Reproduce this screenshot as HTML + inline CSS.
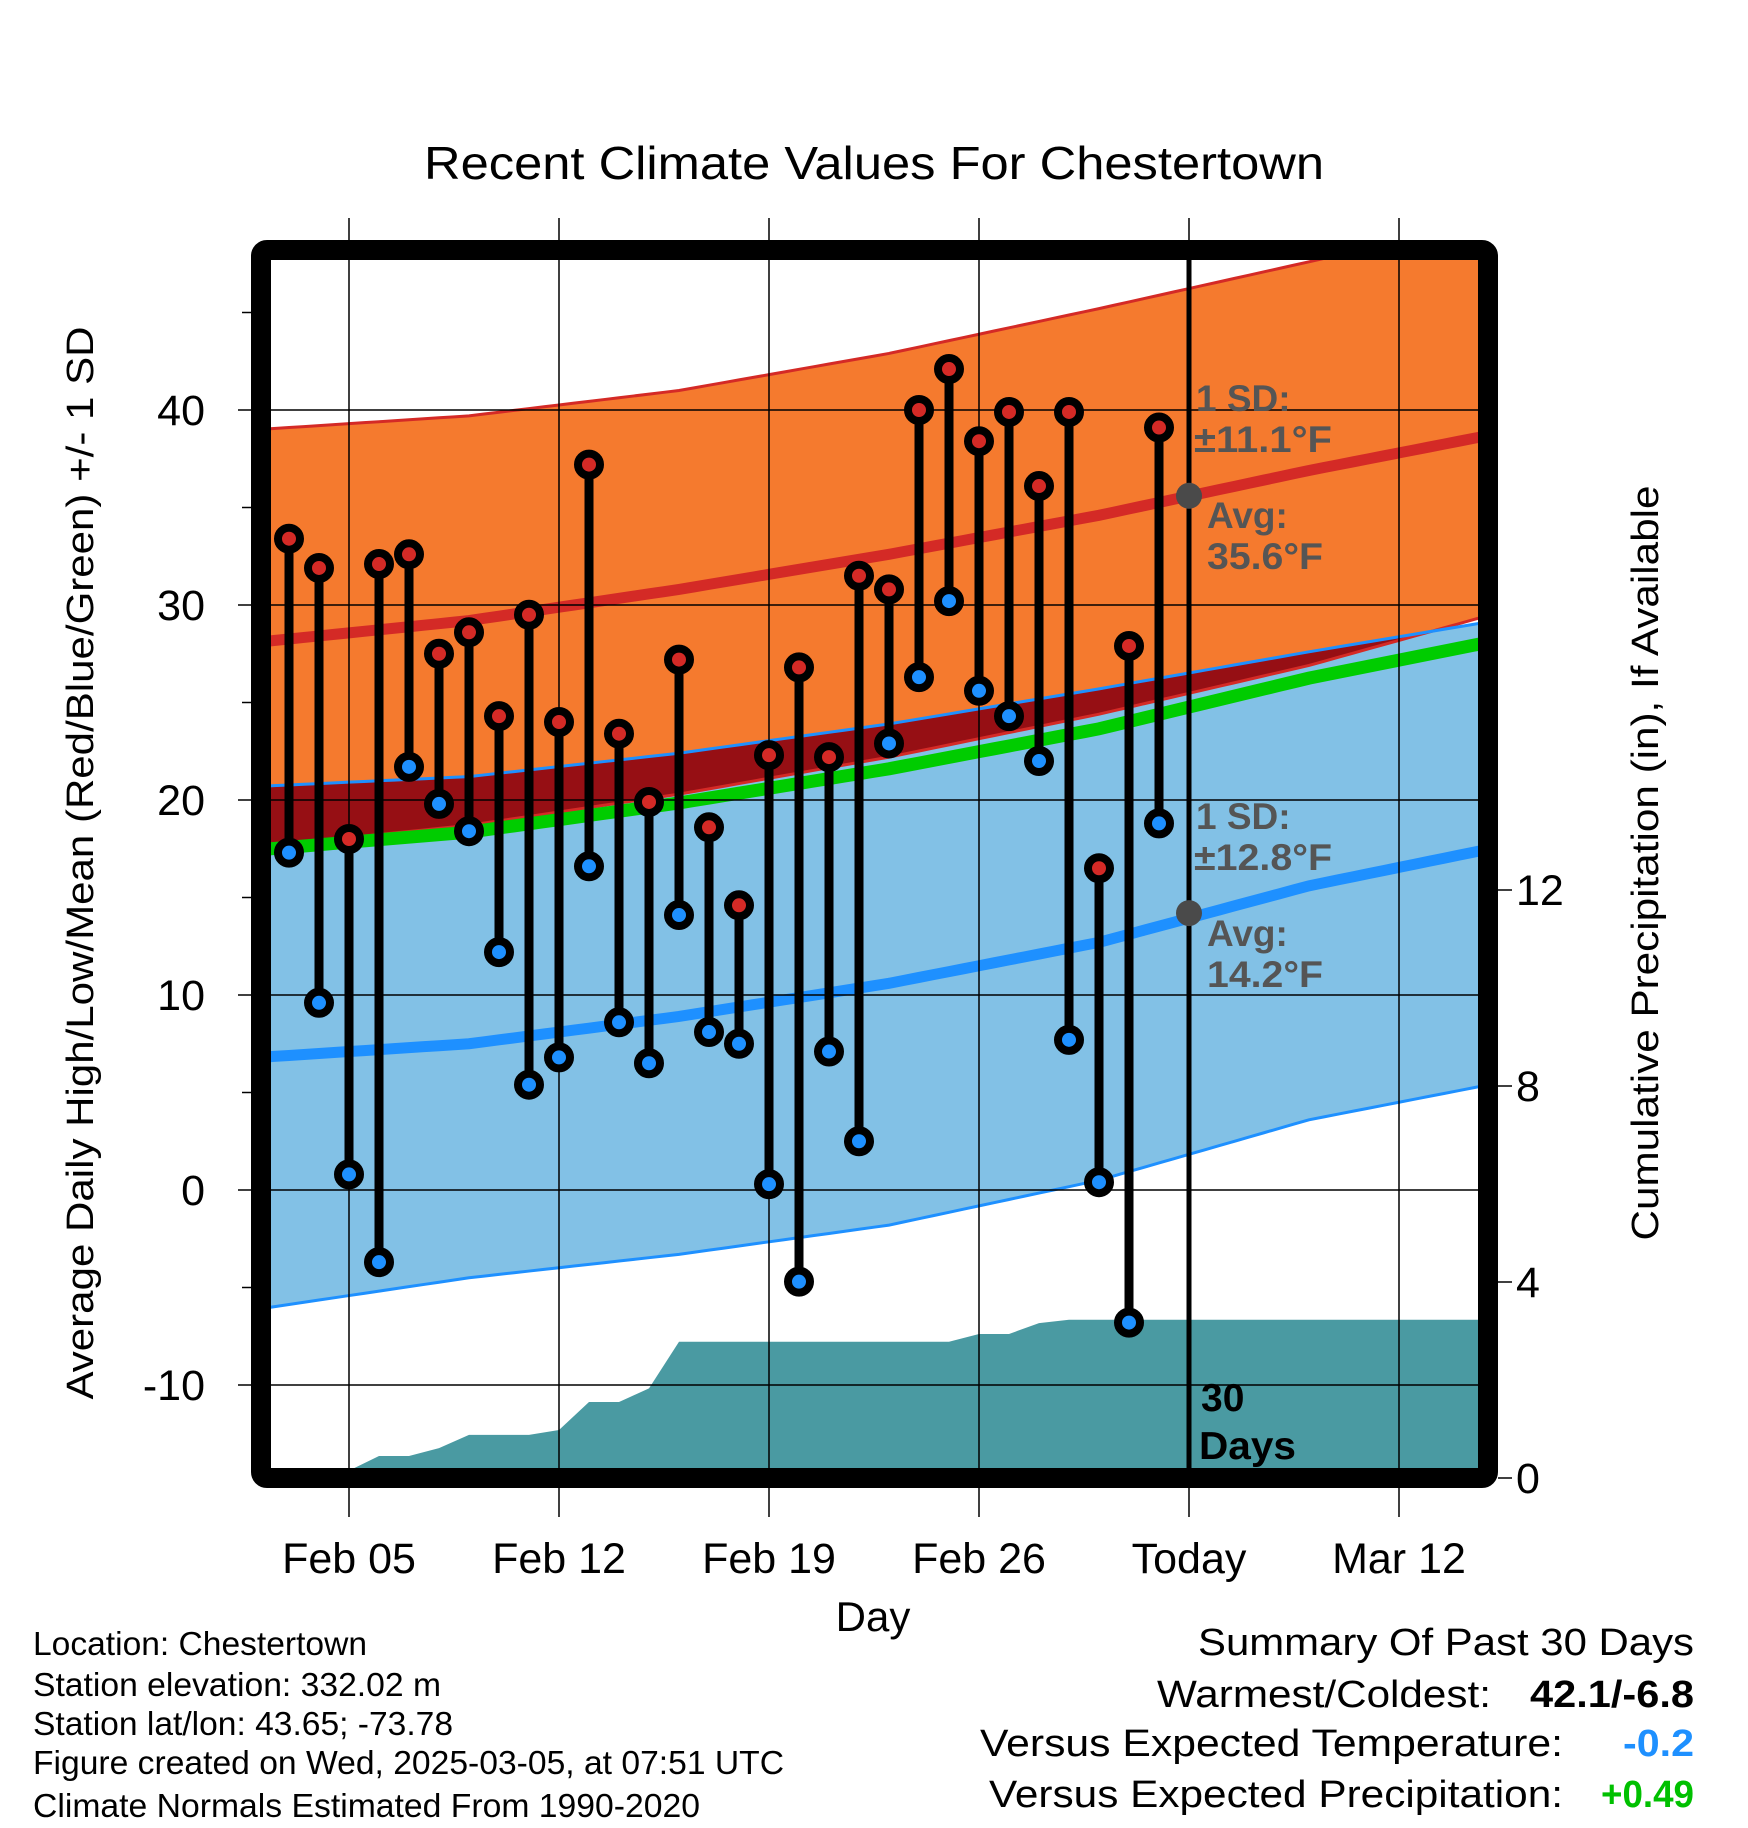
<!DOCTYPE html>
<html><head><meta charset="utf-8">
<style>
html,body{margin:0;padding:0;background:#fff;}
svg{display:block;font-family:"Liberation Sans",Arial,sans-serif;}
</style></head>
<body>
<svg id="chart" width="1748" height="1828" viewBox="0 0 1748 1828" xmlns="http://www.w3.org/2000/svg">
<defs><clipPath id="plotclip"><rect x="270" y="259" width="1209" height="1211"/></clipPath></defs>
<g id="plot" clip-path="url(#plotclip)"></g>
<g id="overlay"></g>
<text x="874" y="179" font-size="46" text-anchor="middle" textLength="900" lengthAdjust="spacingAndGlyphs">Recent Climate Values For Chestertown</text>
<text transform="translate(93,863) rotate(-90)" font-size="38" text-anchor="middle" textLength="1073" lengthAdjust="spacingAndGlyphs">Average Daily High/Low/Mean (Red/Blue/Green) +/- 1 SD</text>
<text transform="translate(1658,863) rotate(-90)" font-size="38" text-anchor="middle" textLength="755" lengthAdjust="spacingAndGlyphs">Cumulative Precipitation (in), If Available</text>
<text x="873" y="1631" font-size="42" text-anchor="middle">Day</text>
<g font-size="37" font-weight="bold" fill="#555">
<text x="1196" y="411">1 SD:</text>
<text x="1194" y="452" textLength="138" lengthAdjust="spacingAndGlyphs">±11.1°F</text>
<text x="1207" y="528">Avg:</text>
<text x="1207" y="569" textLength="116" lengthAdjust="spacingAndGlyphs">35.6°F</text>
</g>
<g font-size="37" font-weight="bold" fill="#555">
<text x="1196" y="829">1 SD:</text>
<text x="1194" y="870" textLength="138" lengthAdjust="spacingAndGlyphs">±12.8°F</text>
<text x="1207" y="946">Avg:</text>
<text x="1207" y="987" textLength="116" lengthAdjust="spacingAndGlyphs">14.2°F</text>
</g>
<g font-size="39" font-weight="bold" fill="#000">
<text x="1201" y="1411">30</text>
<text x="1199" y="1459" textLength="97" lengthAdjust="spacingAndGlyphs">Days</text>
</g>
<g font-size="33" fill="#000" lengthAdjust="spacingAndGlyphs">
<text x="33" y="1655" textLength="334" lengthAdjust="spacingAndGlyphs">Location: Chestertown</text>
<text x="33" y="1696" textLength="408" lengthAdjust="spacingAndGlyphs">Station elevation: 332.02 m</text>
<text x="33" y="1735" textLength="420" lengthAdjust="spacingAndGlyphs">Station lat/lon: 43.65; -73.78</text>
<text x="33" y="1774" textLength="751" lengthAdjust="spacingAndGlyphs">Figure created on Wed, 2025-03-05, at 07:51 UTC</text>
<text x="33" y="1817" textLength="667" lengthAdjust="spacingAndGlyphs">Climate Normals Estimated From 1990-2020</text>
</g>
<g font-size="38" fill="#000">
<text x="1198" y="1655" textLength="496" lengthAdjust="spacingAndGlyphs">Summary Of Past 30 Days</text>
<text x="1157" y="1707" textLength="334" lengthAdjust="spacingAndGlyphs">Warmest/Coldest:</text>
<text x="1530" y="1707" font-weight="bold" textLength="164" lengthAdjust="spacingAndGlyphs">42.1/-6.8</text>
<text x="980" y="1756" textLength="583" lengthAdjust="spacingAndGlyphs">Versus Expected Temperature:</text>
<text x="1623" y="1756" font-weight="bold" fill="#1e90ff" textLength="71" lengthAdjust="spacingAndGlyphs">-0.2</text>
<text x="989" y="1807" textLength="574" lengthAdjust="spacingAndGlyphs">Versus Expected Precipitation:</text>
<text x="1601" y="1807" font-weight="bold" fill="#00c000" textLength="93" lengthAdjust="spacingAndGlyphs">+0.49</text>
</g>
</svg>
<script>
// ---- data ----
const obsDays = [2,3,4,5,6,7,8,9,10,11,12,13,14,15,16,17,18,19,20,21,22,23,24,25,26,27,28,29,30,31]; // days since Feb 1 (Feb 3 .. Mar 4)
const highs = [33.4,31.9,18.0,32.1,32.6,27.5,28.6,24.3,29.5,24.0,37.2,23.4,19.9,27.2,18.6,14.6,22.3,26.8,22.2,31.5,30.8,40.0,42.1,38.4,39.9,36.1,39.9,16.5,27.9,39.1];
const lows  = [17.3,9.6,0.8,-3.7,21.7,19.8,18.4,12.2,5.4,6.8,16.6,8.6,6.5,14.1,8.1,7.5,0.3,-4.7,7.1,2.5,22.9,26.3,30.2,25.6,24.3,22.0,7.7,0.4,-6.8,18.8];
const precip = [0,0,0.15,0.45,0.45,0.61,0.88,0.88,0.88,0.98,1.55,1.55,1.83,2.78,2.78,2.78,2.78,2.78,2.78,2.78,2.78,2.78,2.78,2.94,2.94,3.16,3.23,3.23,3.23,3.23];
const normDays = [1,8,15,22,29,36,43];
const highAvg   = [28.1,29.2,30.8,32.6,34.6,36.9,39.0];
const highUpper = [39.0,39.7,41.0,42.9,45.2,47.6,50.0];
const highLower = [17.6,18.7,20.3,22.2,24.4,26.9,29.9];
const lowAvg    = [6.8,7.5,8.9,10.6,12.7,15.6,17.8];
const lowUpper  = [20.7,21.2,22.4,23.9,25.7,27.6,29.4];
const lowLower  = [-6.1,-4.5,-3.3,-1.8,0.5,3.6,5.7];
const yTicks = [-10,0,10,20,30,40];
const pTicks = [0,4,8,12];
const xTickDays = [4,11,18,25,32,39];
const xTickLabels = ["Feb 05","Feb 12","Feb 19","Feb 26","Today","Mar 12"];
const todayDay = 32, todayHigh = 35.6, todayLow = 14.2;

// ---- scales ----
const X = d => 349 + (d - 4) * 30;
const Y = v => 1190 - 19.5 * v;
const P = p => 1478 - 49 * p;
const NS = "http://www.w3.org/2000/svg";
const plot = document.getElementById('plot');
const ov = document.getElementById('overlay');
function mk(tag, attrs, parent){const e=document.createElementNS(NS,tag);for(const k in attrs)e.setAttribute(k,attrs[k]);parent.appendChild(e);return e;}
function interp(arr,d){
  if(d<=normDays[0]){const t=(d-normDays[0])/(normDays[1]-normDays[0]);return arr[0]+t*(arr[1]-arr[0]);}
  for(let i=0;i<normDays.length-1;i++){if(d<=normDays[i+1]){const t=(d-normDays[i])/(normDays[i+1]-normDays[i]);return arr[i]+t*(arr[i+1]-arr[i]);}}
  const n=normDays.length;const t=(d-normDays[n-2])/(normDays[n-1]-normDays[n-2]);return arr[n-2]+t*(arr[n-1]-arr[n-2]);
}
const samp=[];for(let d=1;d<=43;d+=0.5)samp.push(d);
function bandPath(up,lo){let s='';samp.forEach((d,i)=>{s+=(i?'L':'M')+X(d)+','+Y(up(d));});for(let i=samp.length-1;i>=0;i--){s+='L'+X(samp[i])+','+Y(lo(samp[i]));}return s+'Z';}
function linePath(f){return samp.map((d,i)=>(i?'L':'M')+X(d)+','+Y(f(d))).join('');}

let e;
e=mk('path',{d:bandPath(d=>interp(highUpper,d),d=>interp(highLower,d)),fill:'#f57a2e'},plot);


e=mk('path',{d:bandPath(d=>interp(lowUpper,d),d=>interp(lowLower,d)),fill:'#82c1e6'},plot);


e=mk('path',{d:bandPath(d=>Math.max(interp(lowUpper,d),interp(highLower,d)),d=>interp(highLower,d)),fill:'#960f14'},plot);


e=mk('path',{d:linePath(d=>interp(highUpper,d)),fill:'none',stroke:'#d42a26','stroke-width':3},plot);


e=mk('path',{d:linePath(d=>interp(highLower,d)),fill:'none',stroke:'#d42a26','stroke-width':3},plot);


e=mk('path',{d:linePath(d=>interp(lowUpper,d)),fill:'none',stroke:'#1e90ff','stroke-width':3},plot);


e=mk('path',{d:linePath(d=>interp(lowLower,d)),fill:'none',stroke:'#1e90ff','stroke-width':3},plot);



let pd='M'+X(obsDays[0])+','+P(0);
obsDays.forEach((d,i)=>{pd+='L'+X(d)+','+P(precip[i]);});
pd+='L1490,'+P(precip[precip.length-1])+'L1490,'+P(0)+'Z';
e=mk('path',{d:pd,fill:'#4a9aa2'},plot);



yTicks.forEach(v=>{e=mk('line',{x1:238,x2:1479,y1:Y(v),y2:Y(v),stroke:'#000','stroke-width':1.5},ov);

});
xTickDays.forEach(d=>{e=mk('line',{x1:X(d),x2:X(d),y1:218,y2:1517,stroke:'#000','stroke-width':1.5},ov);

});
[-5,5,15,25,35,45].forEach(v=>{e=mk('line',{x1:242,x2:252,y1:Y(v),y2:Y(v),stroke:'#000','stroke-width':1.5},ov);

});

e=mk('path',{d:linePath(d=>interp(highAvg,d)),fill:'none',stroke:'#d42a26','stroke-width':11},plot);


e=mk('path',{d:linePath(d=>interp(lowAvg,d)),fill:'none',stroke:'#1e90ff','stroke-width':11},plot);


e=mk('path',{d:linePath(d=>(interp(highAvg,d)+interp(lowAvg,d))/2),fill:'none',stroke:'#00cc00','stroke-width':13},plot);



e=mk('line',{x1:X(todayDay),x2:X(todayDay),y1:245,y2:1480,stroke:'#000','stroke-width':5},ov);



obsDays.forEach((d,i)=>{
  e=mk('line',{x1:X(d),x2:X(d),y1:Y(highs[i]),y2:Y(lows[i]),stroke:'#000','stroke-width':9},ov);
  
  
});
obsDays.forEach((d,i)=>{
  e=mk('circle',{cx:X(d),cy:Y(highs[i]),r:11,fill:'#d42a26',stroke:'#000','stroke-width':8},ov);
  
  
  e=mk('circle',{cx:X(d),cy:Y(lows[i]),r:11,fill:'#1e90ff',stroke:'#000','stroke-width':8},ov);
  
  
});
e=mk('circle',{cx:X(todayDay),cy:Y(todayHigh),r:13,fill:'#4a4a4a'},ov);


e=mk('circle',{cx:X(todayDay),cy:Y(todayLow),r:13,fill:'#4a4a4a'},ov);



e=mk('rect',{x:261,y:250,width:1227,height:1228,rx:6,fill:'none',stroke:'#000','stroke-width':20},ov);



function txt(s,attrs){const t=mk('text',attrs,ov);t.textContent=s;return t;}
yTicks.forEach(v=>{
  const t=txt(String(v),{x:205,y:Y(v)+15,'font-size':43,'text-anchor':'end'});
  
  
});
xTickDays.forEach((d,i)=>{
  const t=txt(xTickLabels[i],{x:X(d),y:1573,'font-size':43,'text-anchor':'middle'});
  
  
});
pTicks.forEach(p=>{
  e=mk('line',{x1:1498,x2:1512,y1:P(p),y2:P(p),stroke:'#000','stroke-width':1.5},ov);
  
  
  const t=txt(String(p),{x:1516,y:P(p)+15,'font-size':43});
  
  
});
</script>
</body></html>
